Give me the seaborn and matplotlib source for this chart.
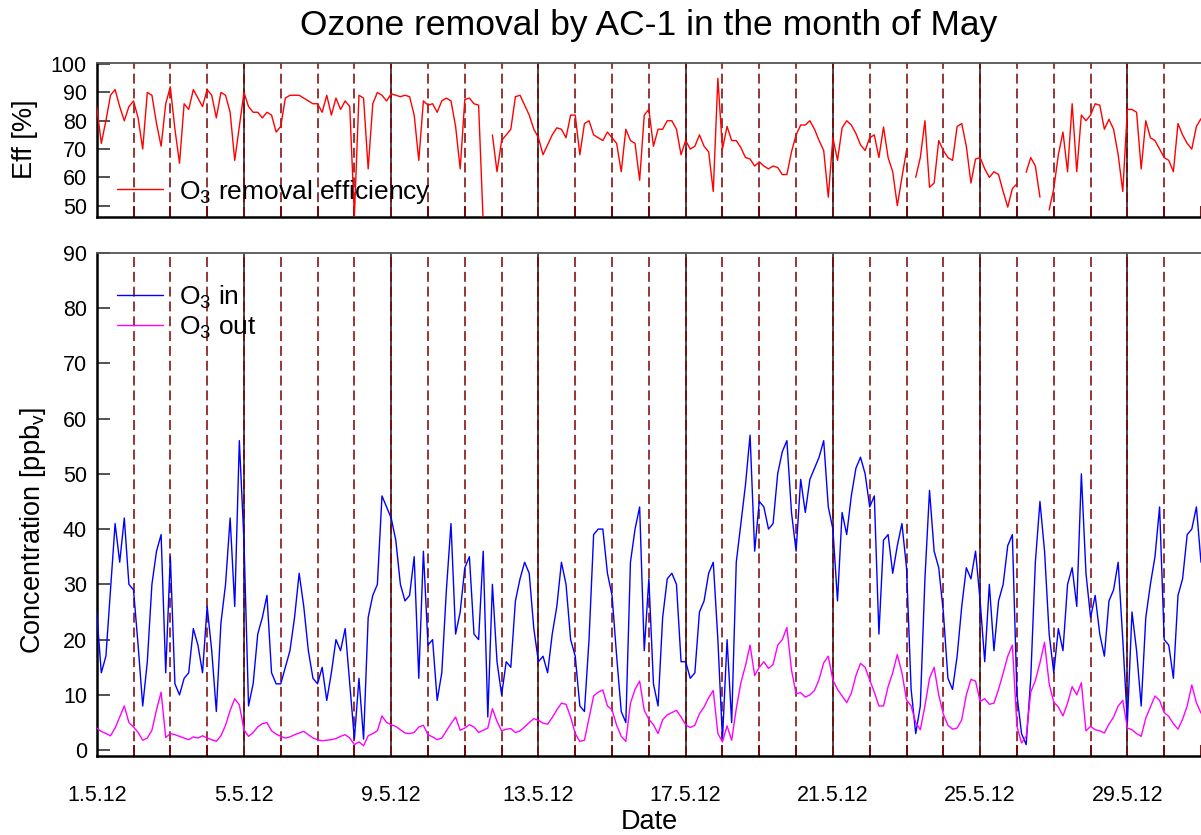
import numpy as np
import pandas as pd
import matplotlib
matplotlib.use("Agg")
import matplotlib.pyplot as plt
import seaborn as sns
from matplotlib.lines import Line2D
from matplotlib.ticker import FixedLocator, MultipleLocator

sns.set_style("white")
plt.rcParams["font.family"] = ["Liberation Sans", "DejaVu Sans"]
plt.rcParams["mathtext.default"] = "regular"
plt.rcParams["text.color"] = "black"
plt.rcParams["axes.labelcolor"] = "black"
plt.rcParams["xtick.color"] = "black"
plt.rcParams["ytick.color"] = "black"

nan = np.nan

# ---- data: 3-hourly samples, one row per day of May 2012 ----
o3_in_days = [
    [25, 14, 17, 29, 41, 34, 42, 30],
    [29, 19, 8, 16, 30, 36, 39, 14],
    [35, 12, 10, 13, 14, 22, 19, 14],
    [26, 18, 7, 23, 30, 42, 26, 56],
    [38, 8, 12, 21, 24, 28, 14, 12],
    [12, 15, 18, 24, 32, 26, 18, 13],
    [12, 15, 9, 14, 20, 18, 22, 12],
    [2, 13, 2, 24, 28, 30, 46, 44],
    [42, 38, 30, 27, 28, 35, 13, 36],
    [19, 20, 9, 14, 29, 41, 21, 25],
    [33, 35, 21, 20, 36, 6, 30, 16],
    [10, 16, 15, 27, 31, 34, 32, 22],
    [16, 17, 14, 21, 26, 34, 30, 20],
    [17, 8, 7, 20, 39, 40, 40, 32],
    [28, 17, 7, 5, 34, 40, 44, 18],
    [31, 12, 8, 24, 31, 32, 30, 16],
    [16, 13, 14, 25, 27, 32, 34, 20],
    [2, 20, 5, 34, 41, 48, 57, 36],
    [45, 44, 40, 41, 50, 54, 56, 43],
    [36, 49, 43, 49, 51, 53, 56, 44],
    [40, 27, 43, 39, 46, 51, 53, 50],
    [44, 46, 21, 38, 39, 32, 37, 41],
    [33, 11, 3, 8, 31, 47, 36, 33],
    [25, 13, 11, 17, 26, 33, 31, 36],
    [27, 16, 30, 18, 27, 30, 37, 39],
    [10, 3, 1, 13, 34, 45, 36, 21],
    [14, 22, 18, 30, 33, 26, 50, 32],
    [24, 28, 21, 17, 27, 29, 34, 20],
    [5, 25, 18, 8, 24, 30, 35, 44],
    [20, 19, 13, 28, 31, 39, 40, 44],
]
o3_in_last = 34

o3_out_days = [
    [4, 3.4, 3, 2.6, 4, 6, 8, 5],
    [4.2, 3.2, 1.8, 2.2, 3.6, 7.3, 10.5, 2.3],
    [3, 2.8, 2.5, 2.2, 1.9, 2.4, 2.2, 2.6],
    [2.2, 1.9, 1.6, 2.6, 4.5, 7.2, 9.3, 8.2],
    [3.7, 2.5, 3.2, 4.2, 4.8, 5, 3.5, 2.9],
    [2.5, 2.2, 2.4, 2.8, 3.1, 3.4, 2.8, 2.2],
    [1.9, 1.7, 1.8, 1.9, 2.1, 2.5, 2.8, 2.2],
    [1, 1.5, 0.8, 2.6, 3, 3.5, 6.2, 5],
    [4.6, 4.3, 3.7, 3.1, 3, 3.2, 4.2, 4.5],
    [2.8, 2.4, 1.9, 2.2, 3.5, 4.8, 6, 3.6],
    [4, 4.6, 4.2, 3.2, 3.6, 4, 7.5, 5.2],
    [3.5, 3.8, 3.9, 3.2, 3.5, 4.2, 5, 5.7],
    [5.4, 4.9, 4.7, 5.9, 7.3, 8.5, 8.3, 6],
    [3, 1.6, 1.8, 5.8, 9.8, 10.5, 10.9, 8],
    [7.3, 4.5, 2.5, 1.6, 8.5, 11, 12.5, 7.2],
    [5.6, 4.6, 3, 5.5, 6.4, 6.8, 7.2, 6],
    [4.6, 4.1, 4.5, 6.6, 7.8, 9.5, 10.8, 3],
    [1.5, 4.4, 1.8, 7.5, 12.2, 15.3, 19, 13.5],
    [15, 16, 14.8, 15.5, 19, 20, 22.2, 14.5],
    [10.2, 10.4, 9.6, 10, 10.8, 12.8, 15.8, 17],
    [12.7, 11, 9.8, 8.6, 10.3, 13.5, 15.7, 15],
    [12.7, 10.5, 8, 8, 11.5, 14, 17.3, 14],
    [9.1, 8, 5, 3.7, 8, 13, 15, 10],
    [6.5, 4.5, 3.8, 4, 5.5, 10, 12.8, 12.5],
    [8.8, 9.3, 8.3, 8.5, 11, 13.9, 17, 19],
    [4.3, 1.3, 2.5, 10.5, 12.6, 15.8, 19.5, 12],
    [8.7, 7.8, 6.2, 8.5, 11.5, 10, 12.2, 3.5],
    [4.3, 3.7, 3.5, 3.1, 4.7, 6, 8, 9],
    [4, 3.7, 3, 2.5, 5.8, 7.8, 9.8, 9],
    [6.8, 6.1, 4.8, 3.8, 5.6, 8, 11.8, 8.6],
]
o3_out_last = 6.7

eff_days = [
    [85, 72, 80, 89, 91, 85, 80, 85],
    [87, 81, 70, 90, 89, 79, 71, 86],
    [92, 77, 65, 86, 84, 91, 88, 85],
    [91, 89, 81, 90, 89, 83, 66, 78],
    [90, 85, 83, 83, 81, 83, 82, 76],
    [78, 88, 89, 89, 89, 88, 87, 86],
    [86, 83, 89, 82, 88, 84, 87, 85],
    [46, 89, 88, 63, 86, 90, 89, 87],
    [89.5, 89, 88.5, 89, 88.5, 82, 66, 87],
    [85.5, 86, 83, 87, 88, 87, 78, 63],
    [87.5, 88, 86, 85.5, 44, nan, 75, 62],
    [73, 75, 77, 88.5, 89, 85.5, 82, 77],
    [74, 68, 71.5, 75, 77.5, 77, 74, 82],
    [82, 68, 79, 80, 75, 74, 73, 76],
    [74, 72, 62, 77, 73, 72, 59, 82],
    [84, 71, 77, 77, 80, 80, 77, 68],
    [73, 70, 71, 75, 71, 69, 55, 95],
    [70, 78, 73, 73, 70.5, 67, 66.5, 64],
    [65.5, 64, 63, 64, 63.5, 61, 61, 69],
    [75, 78.5, 78.5, 80, 77, 73, 69.5, 53],
    [74, 66, 77.5, 80, 78.5, 75.5, 71.5, 69.5],
    [74, 75, 67, 77.8, 67, 62, 50, 60],
    [69.5, nan, 60, 67, 80, 56.5, 58, 73],
    [69.5, 67, 66, 78, 79, 71, 58, 66.5],
    [67, 63, 60, 62, 61, 55, 49.5, 56],
    [57.7, nan, 61.8, 67, 64, 53, nan, 48.5],
    [56, 68, 76, 62, 86, 62, 82, 80],
    [82, 86, 85.5, 77, 80.5, 77, 68, 55],
    [84, 84, 83, 63, 80, 74, 73, 70],
    [67, 66, 62, 79, 75, 72, 70, 78],
]
eff_last = 80.7

date_labels = ["1.5.12", "5.5.12", "9.5.12", "13.5.12", "17.5.12",
               "21.5.12", "25.5.12", "29.5.12"]

# ---- assemble ----
o3_in = np.array(sum(o3_in_days, []) + [o3_in_last], dtype=float)
o3_out = np.array(sum(o3_out_days, []) + [o3_out_last], dtype=float)
eff = np.array(sum(eff_days, []) + [eff_last], dtype=float)
t = np.arange(len(o3_in)) / 8.0  # days since 1 May 00:00

C_IN, C_OUT, C_EFF = "#0000ff", "#ff00ff", "#ff0000"
DRED = "#7a0000"

fig = plt.figure(figsize=(12.01, 8.35), dpi=100)
L = 96.7 / 1201
ax1 = fig.add_axes([L, 1 - 217.3 / 835, 1 - L, (217.3 - 62.7) / 835])
ax2 = fig.add_axes([L, 1 - 755.7 / 835, 1 - L, (755.7 - 252.7) / 835])


def day_lines(ax):
    for d in range(1, 30):
        if d % 4 == 0:
            ax.axvline(d, color="#4a4a4a", lw=1.4, zorder=1)
        ax.axvline(d, color=DRED, lw=1.1, ls=(0, (6.5, 3.2)), zorder=1.5)


for ax in (ax1, ax2):
    day_lines(ax)

# efficiency, broken at gaps
df_eff = pd.DataFrame({"t": t, "eff": eff})
df_eff["seg"] = np.cumsum(df_eff["eff"].isna().values)
for _, g in df_eff.dropna().groupby("seg"):
    if len(g) > 1:
        sns.lineplot(data=g, x="t", y="eff", ax=ax1, color=C_EFF, lw=1.0,
                     estimator=None, sort=False, legend=False, zorder=3)

df_c = pd.DataFrame({"t": t, "in": o3_in, "out": o3_out})
sns.lineplot(data=df_c, x="t", y="in", ax=ax2, color=C_IN, lw=1.0,
             estimator=None, sort=False, label="O$_3$ in", zorder=3)
sns.lineplot(data=df_c, x="t", y="out", ax=ax2, color=C_OUT, lw=1.0,
             estimator=None, sort=False, label="O$_3$ out", zorder=3)

# axes styling
for ax in (ax1, ax2):
    ax.set_xlim(0, 30)
    ax.spines["right"].set_visible(False)
    ax.spines["top"].set_color("#555555")
    ax.spines["top"].set_linewidth(1.3)
    for s in ("left", "bottom"):
        ax.spines[s].set_color("black")
        ax.spines[s].set_linewidth(1.8)
    ax.xaxis.set_major_locator(FixedLocator(list(range(0, 30, 4))))
    ax.xaxis.set_minor_locator(MultipleLocator(1))
    ax.tick_params(axis="x", which="major", length=0, pad=21, labelsize=15.5,
                   labelcolor="black")
    ax.tick_params(axis="x", which="minor", direction="in", length=8,
                   width=1.3, color=DRED, bottom=True)
    ax.tick_params(axis="y", which="major", direction="in", length=9.5,
                   width=1.3, color="#444444", pad=7, labelsize=15.5,
                   labelcolor="black", left=True)
    ax.set_xlabel("")
    ax.set_ylabel("")

ax1.set_ylim(45.9, 100.5)
ax1.set_yticks([50, 60, 70, 80, 90, 100])
ax1.set_xticklabels([])
ax2.set_ylim(-1, 90)
ax2.set_yticks(list(range(0, 91, 10)))
ax2.set_xticklabels(date_labels)

ax1.legend(handles=[Line2D([0], [0], color=C_EFF, lw=1.0)],
           labels=["O$_3$ removal efficiency"], loc="center left",
           bbox_to_anchor=((117 - 96.7) / 1104, 0.166), frameon=False,
           fontsize=19, handlelength=1.75, handletextpad=0.6,
           borderpad=0, borderaxespad=0)
ax2.legend(loc="center left", bbox_to_anchor=((117 - 96.7) / 1104, 0.882),
           frameon=False, fontsize=19, handlelength=1.75,
           handletextpad=0.6, labelspacing=0.15, borderpad=0,
           borderaxespad=0)

fig.text(649 / 1201, 1 - 26 / 835, "Ozone removal by AC-1 in the month of May",
         ha="center", va="center", fontsize=25.5)
fig.text(25 / 1201, 1 - 139 / 835, "Eff [%]", rotation=90, ha="center",
         va="center", fontsize=19.5)
fig.text(33 / 1201, 1 - 530 / 835, "Concentration [ppb$_v$]", rotation=90,
         ha="center", va="center", fontsize=19.5)
fig.text(649 / 1201, 1 - 822 / 835, "Date", ha="center", va="center",
         fontsize=19.5)

fig.savefig("out.png", dpi=100)
